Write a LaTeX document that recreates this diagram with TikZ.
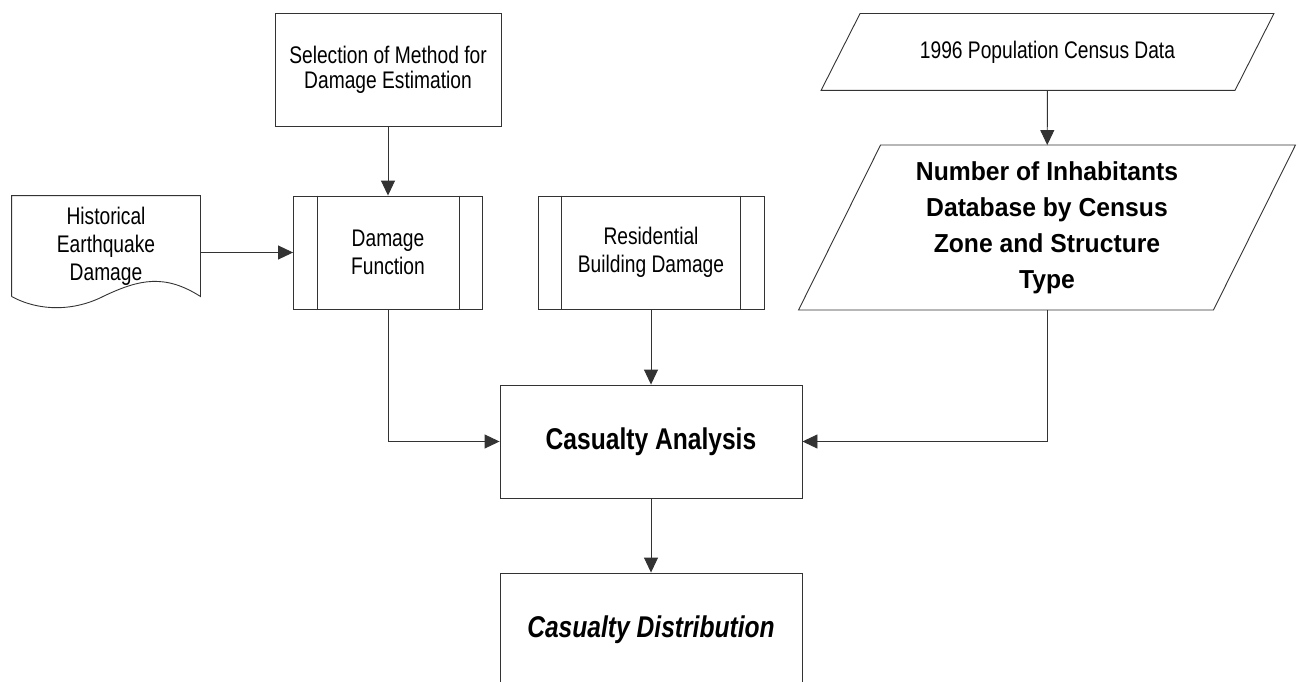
\documentclass[tikz,border=0pt]{standalone}
\usepackage{fontspec}
\setmainfont{Liberation Sans}[FakeStretch=0.8]
\newfontfamily\headfont{Liberation Sans}[FakeStretch=0.82]
\newfontfamily\dbfont{Liberation Sans}[FakeStretch=0.95]
\usetikzlibrary{arrows.meta,positioning}

\begin{document}
\begin{tikzpicture}[x=1pt,y=-1pt,line width=0.9pt,draw=black!80,
    arr/.style={-{Triangle[length=15pt,width=14pt]}},
    small/.style={align=center,font=\fontsize{24}{28}\selectfont},
    procbox/.style={small,draw,minimum height=113pt},
    bigbox/.style={draw,minimum width=302pt,minimum height=113pt,
      font=\headfont\fontsize{30}{36}\selectfont\bfseries}]
  \useasboundingbox (0,0) rectangle (1298,682);

  % upper row
  \node[procbox,minimum width=226pt,font=\fontsize{24}{25}\selectfont] (sel) at (388,69.5)
    {Selection of Method for\\Damage Estimation};
  \node[procbox,minimum width=189pt] (df) at (388,252.5) {Damage\\Function};
  \node[procbox,minimum width=226pt] (res) at (651,252.5) {Residential\\Building Damage};
  \foreach \n in {df,res} {
    \draw ([xshift=24pt]\n.north west) -- ([xshift=24pt]\n.south west);
    \draw ([xshift=-24pt]\n.north east) -- ([xshift=-24pt]\n.south east);
  }

  % document shape
  \node[small,minimum width=188pt,minimum height=100pt] (hist) at (106,246)
    {Historical\\Earthquake\\Damage};
  \draw (hist.south west) -- (hist.north west) -- (hist.north east) -- (hist.south east)
    .. controls (165,274) and (140,279) .. (104,296)
    .. controls (75,311) and (40,312) .. (hist.south west);

  % data shapes
  \node[small,minimum width=413pt,minimum height=76pt] (census) at (1047.5,52)
    {1996 Population Census Data};
  \draw ([xshift=19.5pt]census.north west) -- ([xshift=19.5pt]census.north east)
    -- ([xshift=-19.5pt]census.south east) -- ([xshift=-19.5pt]census.south west) -- cycle;
  \node[align=center,minimum width=414pt,minimum height=164pt,
    font=\dbfont\fontsize{26}{36}\selectfont\bfseries] (num) at (1047,227.5)
    {Number of Inhabitants\\Database by Census\\Zone and Structure\\Type};
  \draw ([xshift=41pt]num.north west) -- ([xshift=41pt]num.north east)
    -- ([xshift=-41pt]num.south east) -- ([xshift=-41pt]num.south west) -- cycle;

  % analysis
  \node[bigbox] (ca) at (651,441.5) {Casualty Analysis};
  \node[bigbox] (cd) at (651,629.5) {\itshape Casualty Distribution};

  % connectors
  \draw[arr] (sel) -- (df);
  \draw[arr] (hist.east |- df.west) -- (df.west);
  \draw[arr] (census) -- (num);
  \draw[arr] (df.south) |- (ca.west);
  \draw[arr] (res) -- (ca);
  \draw[arr] (num.south) |- (ca.east);
  \draw[arr] (ca) -- (cd);
\end{tikzpicture}
\end{document}
